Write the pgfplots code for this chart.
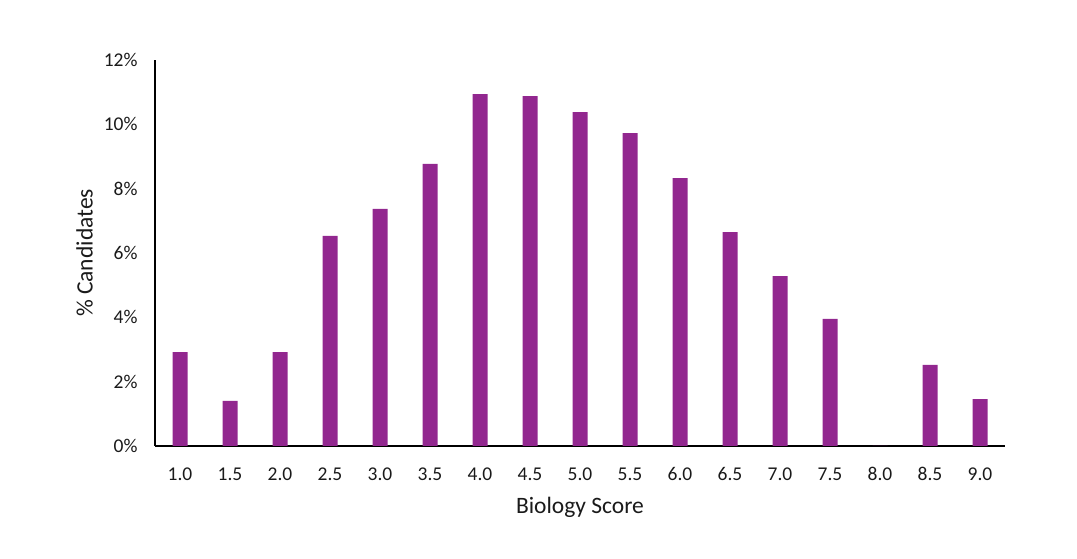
\documentclass[border=0pt]{standalone}
\usepackage{pgfplots}
\pgfplotsset{compat=1.18}
\usepackage{fontspec}
\setmainfont{Carlito}
\definecolor{barc}{HTML}{92278F}
\definecolor{txt}{HTML}{1A1A1A}
\begin{document}
\begin{tikzpicture}[x=1pt,y=1pt]
\useasboundingbox (0,0) rectangle (1077,559);
\begin{axis}[
  at={(155pt,113pt)}, anchor=south west,
  scale only axis, width=850pt, height=386pt,
  xmin=0.5, xmax=17.5, ymin=0, ymax=12,
  axis x line*=bottom, axis y line*=left,
  axis line style={black, line width=1.2pt, -},
  xtick={1,...,17},
  xticklabels={1.0,1.5,2.0,2.5,3.0,3.5,4.0,4.5,5.0,5.5,6.0,6.5,7.0,7.5,8.0,8.5,9.0},
  ytick={0,2,4,6,8,10,12},
  yticklabel={\pgfmathprintnumber{\tick}\%},
  /pgf/number format/assume math mode=true,
  typeset ticklabels with strut,
  major tick length=0pt,
  tick label style={font=\fontsize{19.5}{20}\selectfont, text=txt},
  xticklabel style={yshift=-17pt},
  yticklabel style={xshift=-14pt},
  xlabel={Biology Score}, ylabel={\% Candidates},
  label style={font=\fontsize{23.5}{26}\selectfont, text=txt},
  xlabel style={yshift=-4pt},
  ylabel style={yshift=4pt},
  ybar, bar width=15pt,
  clip=false,
]
\addplot[fill=barc, draw=none] coordinates {
(1,2.92) (2,1.40) (3,2.92) (4,6.53) (5,7.37) (6,8.77) (7,10.94) (8,10.88) (9,10.38)
(10,9.73) (11,8.33) (12,6.65) (13,5.28) (14,3.95) (15,0) (16,2.52) (17,1.46)};
\end{axis}
\end{tikzpicture}
\end{document}
